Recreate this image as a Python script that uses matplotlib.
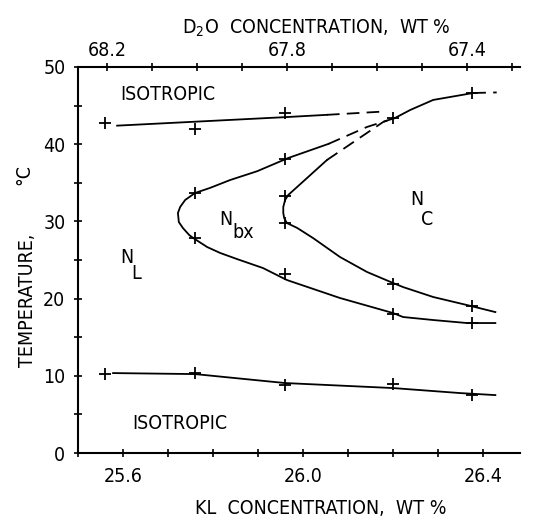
import matplotlib
matplotlib.use("Agg")
import matplotlib.pyplot as plt
from matplotlib.ticker import MultipleLocator, FixedLocator

plt.rcParams['font.family'] = ['DejaVu Sans']
plt.rcParams['font.stretch'] = 'condensed'

# measured compositions (KL wt %) and transition temperatures (deg C)
kl = [25.56, 25.76, 25.96, 26.20, 26.375]
t_iso_upper = [42.7, 42.0, 44.0, 43.4, 46.6]
t_iso_lower = [10.2, 10.4, 8.8, 8.9, 7.5]
kl_mid = [25.76, 25.76, 25.96, 25.96, 25.96, 25.96, 26.20, 26.20, 26.375, 26.375]
t_mid = [33.7, 27.9, 38.1, 33.3, 29.8, 23.2, 21.9, 18.0, 19.0, 16.8]

# phase boundaries as drawn (solid part, dashed part)
iso_top_kl = [25.587, 25.96, 26.053]
iso_top_t = [42.4, 43.5, 43.8]
iso_top_dash_kl = [26.053, 26.171]
iso_top_dash_t = [43.8, 44.2]

iso_low_kl = [25.578, 25.76, 25.96, 26.20, 26.349, 26.427]
iso_low_t = [10.36, 10.23, 9.07, 8.42, 7.77, 7.51]

# N_L / N_bx boundary
nl_kl = [26.056, 25.967, 25.898, 25.838, 25.793, 25.76, 25.738, 25.727, 25.722,
         25.724, 25.733, 25.747, 25.756, 25.787, 25.816, 25.853, 25.911, 25.964,
         26.082, 26.2, 26.222, 26.289, 26.364, 26.427]
nl_t = [40.03, 38.21, 36.5, 35.36, 34.33, 33.68, 32.77, 31.87, 31.09,
        29.92, 29.15, 28.24, 27.85, 26.68, 25.91, 25.13, 23.96, 22.41,
        20.08, 18.13, 17.62, 17.23, 16.84, 16.84]
nl_dash_kl = [26.056, 26.142, 26.204]
nl_dash_t = [40.03, 42.23, 43.39]

# N_bx / N_C boundary
nc_kl = [26.053, 26.016, 25.967, 25.96, 25.956, 25.956, 25.958, 25.964, 25.987,
         26.022, 26.082, 26.142, 26.2, 26.222, 26.289, 26.364, 26.427]
nc_t = [37.95, 36.0, 33.42, 32.77, 31.87, 31.09, 30.44, 29.79, 29.15,
        27.85, 25.39, 23.45, 22.02, 21.5, 20.21, 19.17, 18.26]
nc_dash_kl = [26.053, 26.178, 26.204]
nc_dash_t = [37.95, 42.88, 43.39]

# N_C / isotropic boundary
ci_kl = [26.204, 26.238, 26.289, 26.378]
ci_t = [43.39, 44.43, 45.73, 46.63]
ci_dash_kl = [26.378, 26.43]
ci_dash_t = [46.63, 46.7]

fig = plt.figure(figsize=(5.34, 5.19), dpi=100)
ax = fig.add_axes([0.146, 0.127, 0.828, 0.744])

lw = 1.3
dash = (0, (7, 4))
ax.plot(iso_top_kl, iso_top_t, color='k', lw=lw)
ax.plot(iso_top_dash_kl, iso_top_dash_t, color='k', lw=lw, linestyle=dash)
ax.plot(iso_low_kl, iso_low_t, color='k', lw=lw)
ax.plot(nl_kl, nl_t, color='k', lw=lw)
ax.plot(nl_dash_kl, nl_dash_t, color='k', lw=lw, linestyle=dash)
ax.plot(nc_kl, nc_t, color='k', lw=lw)
ax.plot(nc_dash_kl, nc_dash_t, color='k', lw=lw, linestyle=dash)
ax.plot(ci_kl, ci_t, color='k', lw=lw)
ax.plot(ci_dash_kl, ci_dash_t, color='k', lw=lw, linestyle=dash)

pts = dict(linestyle='none', marker='+', color='k', markersize=8, markeredgewidth=1.3)
ax.plot(kl, t_iso_upper, **pts)
ax.plot(kl, t_iso_lower, **pts)
ax.plot(kl_mid, t_mid, **pts)

# phase labels
fs = 14
ax.text(25.593, 46.4, 'ISOTROPIC', fontsize=fs, va='center')
ax.text(25.62, 3.8, 'ISOTROPIC', fontsize=fs, va='center')
ax.text(25.609, 25.3, 'N', fontsize=fs, ha='center', va='center')
ax.text(25.63, 23.2, 'L', fontsize=fs, ha='center', va='center')
ax.text(25.829, 30.2, 'N', fontsize=fs, ha='center', va='center')
ax.text(25.867, 28.6, 'bx', fontsize=fs, ha='center', va='center')
ax.text(26.253, 32.8, 'N', fontsize=fs, ha='center', va='center')
ax.text(26.276, 30.3, 'C', fontsize=fs, ha='center', va='center')

ax.set_xlim(25.5, 26.482)
ax.set_ylim(0, 50)
ax.spines['right'].set_visible(False)
ax.spines['top'].set_visible(False)
for s in ('left', 'bottom'):
    ax.spines[s].set_linewidth(1.5)

ax.xaxis.set_major_locator(FixedLocator([25.6, 26.0, 26.4]))
ax.xaxis.set_minor_locator(MultipleLocator(0.1))
ax.yaxis.set_major_locator(MultipleLocator(10))
ax.yaxis.set_minor_locator(MultipleLocator(5))
ax.tick_params(which='both', direction='inout', length=6, width=1.2, labelsize=14)
ax.tick_params(axis='x', pad=7)
ax.tick_params(axis='y', pad=6)
ax.set_xticklabels(['25.6', '26.0', '26.4'])

c = 93.764
top = ax.secondary_xaxis('top', functions=(lambda x: c - x, lambda d: c - d))
top.xaxis.set_major_locator(FixedLocator([68.2, 67.8, 67.4]))
top.xaxis.set_minor_locator(MultipleLocator(0.1))
top.tick_params(which='both', direction='inout', length=6, width=1.2, labelsize=14, pad=2)
top.set_xticklabels(['68.2', '67.8', '67.4'])
top.spines['top'].set_linewidth(1.5)

fig.text(0.601, 0.0096, 'KL  CONCENTRATION,  WT %', fontsize=14, ha='center', va='baseline')
fig.text(0.592, 0.936, 'D$_2$O  CONCENTRATION,  WT %', fontsize=14, ha='center', va='baseline')
fig.text(0.052, 0.422, 'TEMPERATURE,', fontsize=14, rotation=90, ha='center', va='center')
fig.text(0.045, 0.663, '°C', fontsize=14, rotation=90, ha='center', va='center')

fig.savefig('out.png', dpi=100)
